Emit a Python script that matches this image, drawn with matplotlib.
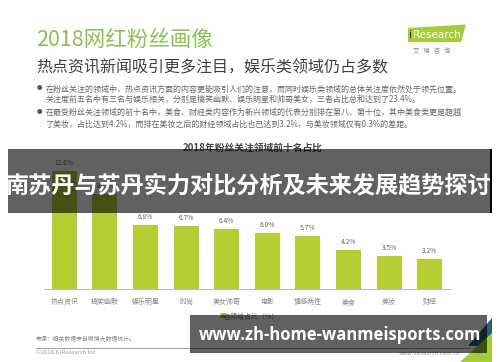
import matplotlib
matplotlib.use("Agg")
import matplotlib.pyplot as plt
from matplotlib.patches import Polygon, Rectangle

CJK = ['Noto Sans CJK SC', 'DejaVu Sans']
plt.rcParams['font.family'] = CJK

# ---- data ----
categories = ["热点资讯", "搞笑幽默", "娱乐明星", "时尚", "美女帅哥",
              "电影", "情感两性", "美食", "美妆", "财经"]
shares = [12.6, 10.2, 6.8, 6.7, 6.4, 6.0, 5.7, 4.2, 3.5, 3.2]

title = "2018网红粉丝画像"
subtitle = "热点资讯新闻吸引更多注目，娱乐类领域仍占多数"
bullet_lines = [
    "在粉丝关注的领域中，热点资讯方面的内容更能吸引人们的注意，而同时娱乐类领域的总体关注度依然处于领先位置。",
    "关注度前五名中有三名与娱乐相关，分别是搞笑幽默、娱乐明星和帅哥美女，三者占比总和达到了23.4%。",
    "在最受粉丝关注领域的前十名中，美食、财经类内容作为新兴领域的代表分别排在第八、第十位，其中美食类更是超越",
    "了美妆，占比达到4.2%，而排在美妆之后的财经领域占比也已达到3.2%，与美妆领域仅有0.3%的差距。",
]
chart_title = "2018年粉丝关注领域前十名占比"
legend_label = "各领域占比（%）"
source_text = "来源：相关数据来自微博大数据统计。"
copyright_text = "©2018.6 iResearch Inc"
site_text = "www.iresearch.com.cn"
page_no = "17"
overlay_title = "南苏丹与苏丹实力对比分析及未来发展趋势探讨"
overlay_url = "www.zh-home-wanmeisports.com"

W, H = 500, 362
fig = plt.figure(figsize=(W / 100, H / 100), dpi=100)
fig.patch.set_facecolor("white")


def fx(x):
    return x / W


def fy(y):
    return 1 - y / H


def ftext(x, y, s, **kw):
    kw.setdefault("va", "center")
    kw.setdefault("ha", "left")
    return fig.text(fx(x), fy(y), s, **kw)


def fpoly(pts, **kw):
    p = Polygon([(fx(a), fy(b)) for a, b in pts], closed=True,
                transform=fig.transFigure, **kw)
    fig.add_artist(p)
    return p


# ---- header ----
ftext(36, 40, title, fontsize=15.5, color="#8cc152")
ftext(36, 68, subtitle, fontsize=11.5, color="#404040")
bullet_y = [89, 99, 112, 124]
for i, (yy, line) in enumerate(zip(bullet_y, bullet_lines)):
    ftext(45.5, yy, line, fontsize=5.75, color="#666666")
    if i in (0, 2):
        ftext(37, yy, "●", fontsize=4, color="#555555")

# logo
fpoly([(408, 28), (466, 24.5), (461, 42), (408, 42)], facecolor="#a6cc3a",
      edgecolor="none")
ftext(409, 34.5, "i", fontsize=7.5, color="#1f3d6b", family=["DejaVu Sans"])
ftext(412.5, 34.5, "Research", fontsize=7.5, color="white", family=["DejaVu Sans"])
ftext(432, 51, "艾   瑞   咨   询", fontsize=4.5, color="#888888", ha="center")

# ---- chart ----
ax = fig.add_axes([fx(44), fy(289), (450 - 44) / W, (289 - 158) / H])
x = list(range(len(categories)))
ax.bar(x, shares, width=0.62, color="#b5cf32", zorder=2)
for xi, v in zip(x, shares):
    ax.annotate(f"{v}%", (xi, v), xytext=(0, 5.8), textcoords="offset points",
                ha="center", va="center", fontsize=4.8, color="#666666")
ax.set_xlim(-0.5, 9.5)
ax.set_ylim(0, 14)
ax.set_xticks(x)
ax.set_xticklabels(categories, fontsize=5, color="#888888")
ax.tick_params(axis="x", length=0, pad=6.5)
ax.set_yticks([])
for s in ("left", "right", "top"):
    ax.spines[s].set_visible(False)
ax.spines["bottom"].set_color("#bbbbbb")
ax.spines["bottom"].set_linewidth(0.8)
ax.patch.set_alpha(0)

ftext(253, 147.5, chart_title, fontsize=7, color="#444444", ha="center",
      fontweight="bold")
ftext(219, 316.5, "■", fontsize=4.5, color="#8cbf2a")
ftext(224, 316.5, legend_label, fontsize=5, color="#777777")

# ---- footer ----
ftext(36, 339, source_text, fontsize=4.2, color="#888888")
fig.add_artist(plt.Line2D([fx(36), fx(470)], [fy(347.5), fy(347.5)],
                          transform=fig.transFigure, color="#a0a0a0", lw=0.7))
ftext(36, 353, copyright_text, fontsize=4.2, color="#999999")
ftext(460, 353.5, site_text, fontsize=4.2, color="#999999", ha="right")
ftext(478, 353.5, page_no, fontsize=4.2, color="#999999", ha="center")

fpoly([(468, 346), (492, 318), (492, 346)], facecolor="#2b5f73", edgecolor="none")
fpoly([(460, 362), (492, 333), (492, 362)], facecolor="#a6cc3a", edgecolor="none")

# ---- overlays ----
fig.add_artist(Rectangle((fx(8), fy(213)), (490 - 8) / W, (213 - 149) / H,
                         transform=fig.transFigure, facecolor="black",
                         alpha=0.62, edgecolor="none", zorder=10))
fig.add_artist(Rectangle((fx(490), fy(213)), 2 / W, (213 - 149) / H,
                         transform=fig.transFigure, facecolor="black",
                         edgecolor="none", zorder=10))
ftext(249, 186, overlay_title, fontsize=16.7, color="white", ha="center",
      fontweight="bold", zorder=11)

fig.add_artist(Rectangle((fx(190), fy(353)), (487 - 190) / W, (353 - 315) / H,
                         transform=fig.transFigure, facecolor="black",
                         alpha=0.62, edgecolor="none", zorder=10))
ftext(340, 335, overlay_url, fontsize=12, color="white", ha="center",
      fontweight="bold", family=["Open Sans", "DejaVu Sans"], zorder=11)

fig.savefig("out.png", dpi=100, facecolor="white")
